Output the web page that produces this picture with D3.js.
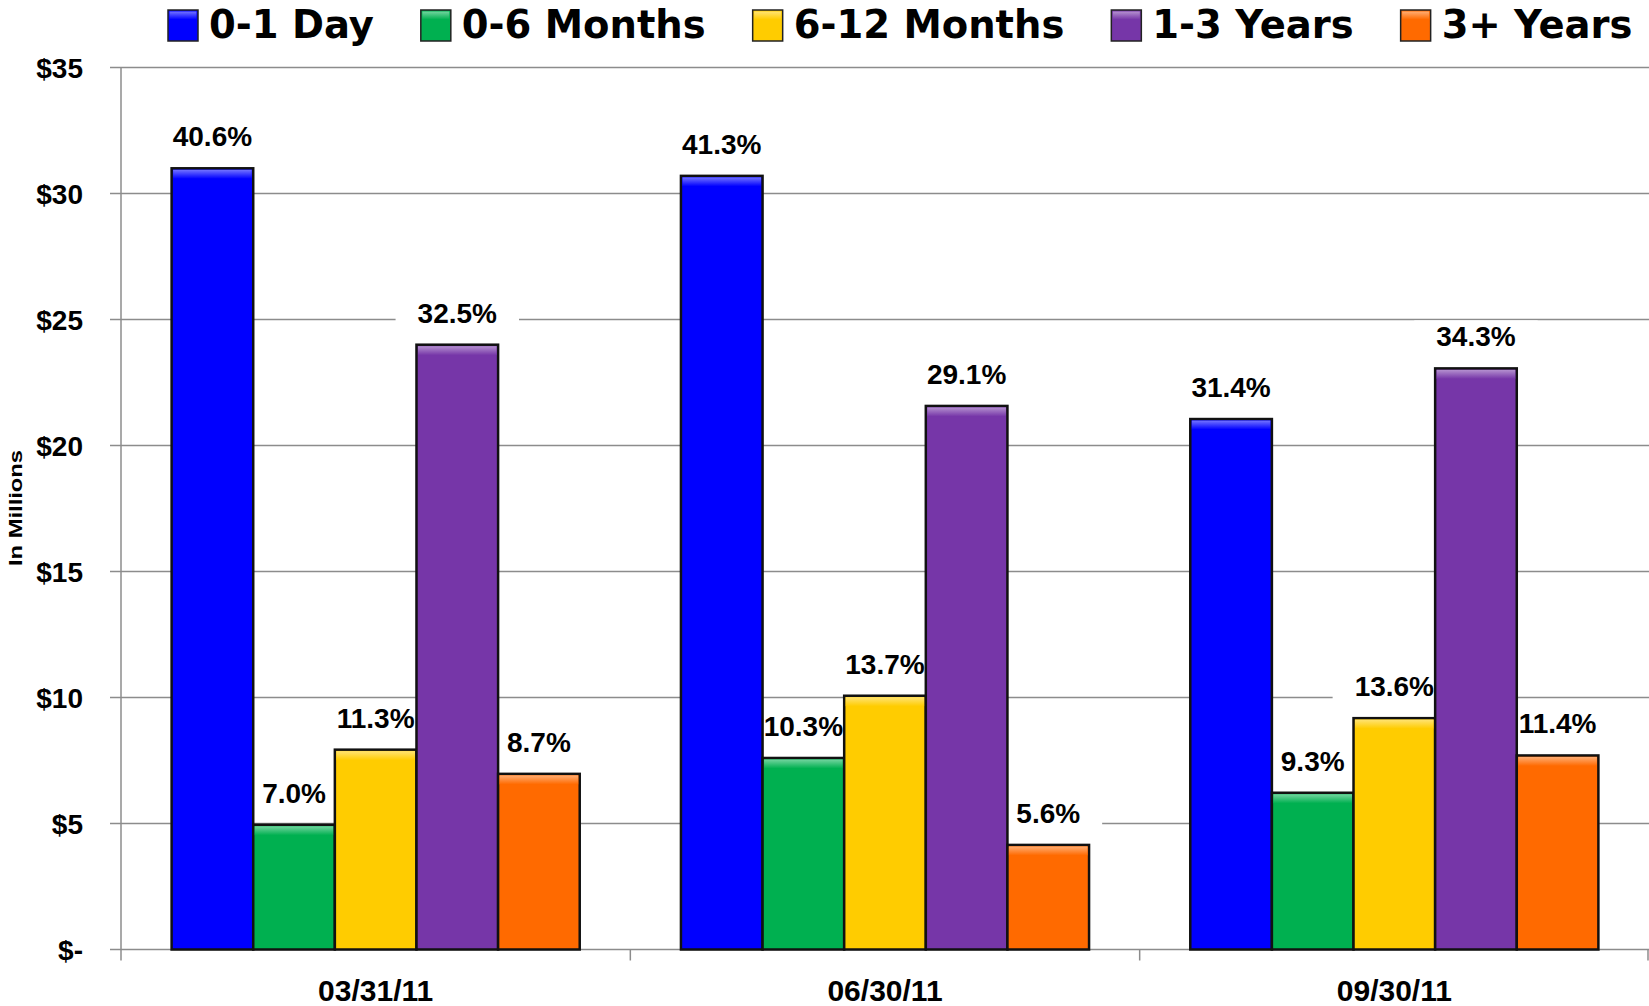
<!DOCTYPE html>
<html>
<head>
<meta charset="utf-8">
<script src="https://cdn.jsdelivr.net/npm/d3@7"></script>
<style>
  html, body { margin: 0; padding: 0; background: #fff; }
  svg { display: block; }
  text { font-family: "Liberation Sans", Arial, sans-serif; font-weight: bold; fill: #000; }
  .legend text { font-family: "DejaVu Sans", "Liberation Sans", sans-serif; }
</style>
</head>
<body>
<svg id="chart" width="1649" height="1006"></svg>
<script>
// DATA
const dates = ['03/31/11', '06/30/11', '09/30/11'];
const seriesNames = ['0-1 Day', '0-6 Months', '6-12 Months', '1-3 Years', '3+ Years'];
const seriesColors = ['#0000ff', '#00b050', '#ffcc00', '#7636a8', '#ff6a00'];

const day01 = [31.0, 30.7, 21.05];
const months06 = [4.95, 7.6, 6.22];
const months612 = [7.93, 10.07, 9.18];
const years13 = [24.0, 21.57, 23.06];
const years3plus = [6.97, 4.15, 7.7];

const pct01 = ['40.6%', '41.3%', '31.4%'];
const pct06 = ['7.0%', '10.3%', '9.3%'];
const pct612 = ['11.3%', '13.7%', '13.6%'];
const pct13 = ['32.5%', '29.1%', '34.3%'];
const pct3plus = ['8.7%', '5.6%', '11.4%'];

const yTicks = [0, 5, 10, 15, 20, 25, 30, 35];
const yTickLabels = ['$-', '$5', '$10', '$15', '$20', '$25', '$30', '$35'];

const values = [day01, months06, months612, years13, years3plus];
const pcts = [pct01, pct06, pct612, pct13, pct3plus];

// flat table for the bars
const rows = [];
seriesNames.forEach((s, si) => {
  dates.forEach((d, di) => {
    rows.push({ series: s, date: d, value: values[si][di], pct: pcts[si][di], color: seriesColors[si], si: si });
  });
});

// SETUP
const svg = d3.select('#chart');
const width = 1649, height = 1006;
const margin = { top: 67.5, right: 0, bottom: 56.5, left: 121 };
const plotBottom = height - margin.bottom;

const y = d3.scaleLinear().domain([0, 35]).range([plotBottom, margin.top]);
const x0 = d3.scaleBand().domain(dates).range([margin.left, width - margin.right]).padding(0);
const x1 = d3.scaleBand().domain(seriesNames).range([0, x0.bandwidth()]).paddingInner(0).paddingOuter(0.62);

// GRADIENTS (bevel on top of the bars)
const defs = svg.append('defs');
seriesColors.forEach((c, i) => {
  const g = defs.append('linearGradient')
    .attr('id', 'bevel' + i)
    .attr('x1', 0).attr('y1', 0).attr('x2', 0).attr('y2', 1);
  g.append('stop').attr('offset', '0%').attr('stop-color', d3.interpolateRgb(c, '#fff')(0.45));
  g.append('stop').attr('offset', '100%').attr('stop-color', c);
});

// GRIDLINES
svg.append('g').attr('class', 'grid')
  .selectAll('line')
  .data(yTicks)
  .enter()
  .append('line')
  .attr('x1', margin.left - 11)
  .attr('x2', width)
  .attr('y1', d => y(d))
  .attr('y2', d => y(d))
  .attr('stroke', '#8c8c8c')
  .attr('stroke-width', 1.5);

// LABEL BOXES (white boxes hide the gridlines behind the labels)
const labelGap = 22;
const labelG = svg.append('g').attr('class', 'labels');
const labelText = labelG.selectAll('text')
  .data(rows)
  .enter()
  .append('text')
  .attr('x', d => x0(d.date) + x1(d.series) + x1.bandwidth() / 2)
  .attr('y', d => y(d.value) - labelGap)
  .attr('text-anchor', 'middle')
  .style('font-size', '28px')
  .text(d => d.pct);

const boxG = svg.insert('g', '.labels').attr('class', 'label-boxes');
labelText.each(function (d) {
  const w = this.getComputedTextLength();
  const cx = x0(d.date) + x1(d.series) + x1.bandwidth() / 2;
  const by = y(d.value) - labelGap;
  boxG.append('rect')
    .attr('x', cx - w / 2 - 22)
    .attr('y', by - 26)
    .attr('width', w + 44)
    .attr('height', 32)
    .attr('fill', '#fff');
});

// BARS
const barG = svg.insert('g', '.labels').attr('class', 'bars');
const bars = barG.selectAll('g.bar')
  .data(rows)
  .enter()
  .append('g')
  .attr('class', 'bar');

bars.append('rect')
  .attr('x', d => x0(d.date) + x1(d.series))
  .attr('y', d => y(d.value))
  .attr('width', x1.bandwidth())
  .attr('height', d => plotBottom - y(d.value))
  .attr('fill', d => d.color)
  .attr('stroke', '#111')
  .attr('stroke-width', 2.5);

bars.append('rect')
  .attr('x', d => x0(d.date) + x1(d.series) + 1.5)
  .attr('y', d => y(d.value) + 1.5)
  .attr('width', x1.bandwidth() - 3)
  .attr('height', 9)
  .attr('fill', d => 'url(#bevel' + d.si + ')');

// AXES
const axisG = svg.insert('g', '.labels').attr('class', 'axes');
axisG.append('line')
  .attr('x1', margin.left).attr('x2', margin.left)
  .attr('y1', margin.top).attr('y2', plotBottom + 11)
  .attr('stroke', '#8c8c8c').attr('stroke-width', 1.5);

axisG.selectAll('line.xtick')
  .data(dates.slice(1).concat(['end']))
  .enter()
  .append('line')
  .attr('class', 'xtick')
  .attr('x1', d => d === 'end' ? width - 1 : x0(d))
  .attr('x2', d => d === 'end' ? width - 1 : x0(d))
  .attr('y1', plotBottom)
  .attr('y2', plotBottom + 11)
  .attr('stroke', '#8c8c8c').attr('stroke-width', 1.5);

// Y TICK LABELS
svg.append('g').selectAll('text')
  .data(yTicks)
  .enter()
  .append('text')
  .attr('x', 83)
  .attr('y', d => y(d))
  .attr('dy', '0.36em')
  .attr('text-anchor', 'end')
  .style('font-size', '28px')
  .text((d, i) => yTickLabels[i]);

// X LABELS
svg.append('g').selectAll('text')
  .data(dates)
  .enter()
  .append('text')
  .attr('x', d => x0(d) + x0.bandwidth() / 2)
  .attr('y', 1001)
  .attr('text-anchor', 'middle')
  .style('font-size', '30px')
  .text(d => d);

// Y AXIS LABEL
svg.append('text')
  .attr('transform', 'translate(22,508)rotate(-90)')
  .attr('text-anchor', 'middle')
  .attr('textLength', 116)
  .attr('lengthAdjust', 'spacingAndGlyphs')
  .style('font-size', '19px')
  .text('In Millions');

// LEGEND
const legend = svg.append('g').attr('class', 'legend');
let lx = 168;
seriesNames.forEach((s, i) => {
  const item = legend.append('g');
  item.append('rect')
    .attr('x', lx).attr('y', 10)
    .attr('width', 30).attr('height', 31)
    .attr('fill', seriesColors[i])
    .attr('stroke', '#222').attr('stroke-width', 1.5);
  item.append('rect')
    .attr('x', lx + 1.5).attr('y', 11.5)
    .attr('width', 27).attr('height', 8)
    .attr('fill', 'url(#bevel' + i + ')');
  const t = item.append('text')
    .attr('x', lx + 41)
    .attr('y', 38)
    .style('font-size', '38.5px')
    .text(s);
  lx += 41 + t.node().getComputedTextLength() + 47;
});
</script>
</body>
</html>
